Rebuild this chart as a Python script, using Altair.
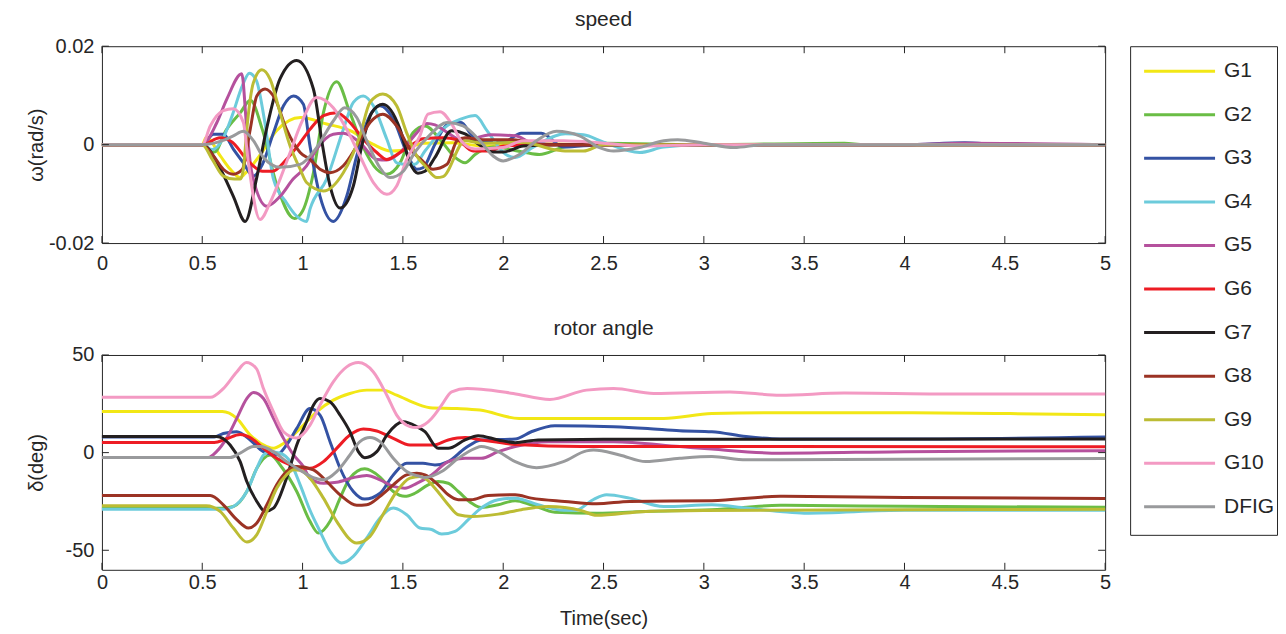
import altair as alt
import pandas as pd

FONT = "Liberation Sans"
TXT = "#262626"

NAMES = ["G1", "G2", "G3", "G4", "G5", "G6", "G7", "G8", "G9", "G10", "DFIG"]
COLORS = ["#f2e716", "#6abd45", "#3452a3", "#6ccbdb", "#b5519d", "#ed1c24",
          "#231f20", "#9b3324", "#bcbc34", "#f39ac3", "#999a9c"]

X_TICKS = [0, 0.5, 1, 1.5, 2, 2.5, 3, 3.5, 4, 4.5, 5]
W_TICKS = [-0.02, 0, 0.02]
D_TICKS = [-50, 0, 50]

# ---------------- speed (values in 1e-3 rad/s) ----------------
SPD_T_G1 = [0, 0.5, 0.52, 0.59, 0.64, 0.69, 0.71, 0.79, 0.87, 0.99, 1.12, 1.24, 1.35, 1.44, 1.49, 1.6, 1.75, 1.9, 2.1, 2.5, 3, 5]
SPD_W_G1 = [0, 0, 1.5, -2.3, -5.0, -6.7, -6.0, -2.0, 2.8, 5.5, 4.2, 2.8, 0.1, -1.3, -1.2, 0.3, 0.4, -0.3, 0.2, 0, 0, 0]

SPD_T_G2 = [0, 0.5, 0.56, 0.62, 0.69, 0.74, 0.80, 0.87, 0.96, 1.0, 1.054, 1.104, 1.17, 1.236, 1.30, 1.37, 1.42, 1.486, 1.55, 1.61, 1.69, 1.76, 1.81, 1.86, 1.95, 2.1, 2.18, 2.3, 2.5, 3, 3.7, 3.8, 5]
SPD_W_G2 = [0, 0, -1.5, 3.0, 6.5, 9.0, 3.0, -8, -15, -13.5, -5.7, 6.5, 12.8, 6.5, -0.3, -5.0, -6.0, -3.7, 2.4, 3.8, 0.8, -2.6, -3.7, -2.0, -0.5, -1.5, -2.0, -0.5, 0.3, 0, 0.3, 0, 0]

SPD_T_G3 = [0, 0.5, 0.556, 0.605, 0.655, 0.705, 0.755, 0.80, 0.855, 0.905, 0.955, 1.004, 1.037, 1.087, 1.153, 1.22, 1.27, 1.32, 1.386, 1.452, 1.519, 1.569, 1.6, 1.66, 1.725, 1.79, 1.84, 1.9, 2.0, 2.09, 2.19, 2.3, 2.5, 3, 4, 4.3, 4.5, 5]
SPD_W_G3 = [0, 0, 2.1, 2.1, -0.9, -3.7, -6.4, -4, 2.4, 7.9, 9.9, 8.2, -0.3, -10.5, -15.6, -10.5, -2.3, 4.5, 7.9, 5.2, -1.6, -5.0, -4.7, 0.1, 4.2, 4.5, 2.1, 0.5, 0.5, 2.3, 2.3, -0.5, 0, 0, 0, 0.4, 0, 0]

SPD_T_G4 = [0, 0.5, 0.55, 0.6, 0.65, 0.7, 0.735, 0.77, 0.81, 0.855, 0.92, 0.97, 1.02, 1.037, 1.12, 1.203, 1.253, 1.303, 1.353, 1.42, 1.469, 1.52, 1.56, 1.61, 1.71, 1.81, 1.86, 1.92, 2.01, 2.06, 2.15, 2.31, 2.4, 2.5, 2.68, 2.8, 3, 5]
SPD_W_G4 = [0, 0, -1, 1, 6, 12, 14.5, 13, 5, -7, -11.8, -14.5, -15.6, -13.1, -7.0, 3.1, 8.6, 9.9, 7.9, 1.1, -3.7, -4.0, -4.0, -1.3, 3.5, 5.5, 5.9, 2.8, -1.9, -2.6, -0.5, 2.2, 2.0, 0.5, -1.6, -0.5, 0, 0]

SPD_T_G5 = [0, 0.5, 0.573, 0.623, 0.697, 0.722, 0.747, 0.822, 0.888, 0.953, 1.02, 1.07, 1.153, 1.203, 1.286, 1.37, 1.42, 1.486, 1.569, 1.62, 1.66, 1.72, 1.8, 1.94, 2.06, 2.15, 2.3, 2.5, 3, 4, 4.3, 5]
SPD_W_G5 = [0, 0, 4.5, 9.3, 14.4, 3.2, -5.7, -12.5, -10.5, -7.0, -4.3, -0.9, 2.1, 2.3, 0.4, -3.0, -3.1, -1.6, 2.4, 4.3, 4.0, 2.5, 0.8, 2.0, 1.8, 0.3, 0, 0, 0, 0, 0.3, 0]

SPD_T_G6 = [0, 0.5, 0.589, 0.65, 0.722, 0.80, 0.85, 0.92, 0.988, 1.037, 1.104, 1.17, 1.236, 1.303, 1.37, 1.42, 1.486, 1.55, 1.6, 1.7, 1.77, 1.85, 1.93, 2.0, 2.2, 5]
SPD_W_G6 = [0, 0, 1.4, 0.5, -3.0, -5.4, -5.4, -3.0, 0.4, 3.1, 5.9, 6.5, 4.5, 1.1, -1.6, -3.0, -1.6, 0.1, 1.2, 1.4, 1.0, -1.3, -1.3, -0.3, 0, 0]

SPD_T_G7 = [0, 0.5, 0.59, 0.655, 0.714, 0.77, 0.82, 0.888, 0.971, 1.054, 1.10, 1.137, 1.187, 1.253, 1.295, 1.345, 1.40, 1.486, 1.535, 1.575, 1.61, 1.66, 1.743, 1.81, 1.87, 1.95, 2.0, 2.1, 2.3, 5]
SPD_W_G7 = [0, 0, -4.9, -10.5, -15.6, -7, 3.1, 13.4, 17.1, 11.3, -0.3, -8.4, -12.9, -8.4, -0.3, 6.5, 8.2, 3.1, -3.7, -5.8, -5.4, -2.6, 2.8, 2.2, 0.3, -1.5, -1.5, -0.3, 0, 0]

SPD_T_G8 = [0, 0.5, 0.556, 0.605, 0.655, 0.70, 0.739, 0.772, 0.813, 0.863, 0.92, 0.988, 1.037, 1.087, 1.137, 1.203, 1.27, 1.336, 1.40, 1.469, 1.535, 1.59, 1.65, 1.72, 1.77, 1.81, 1.9, 2.05, 2.2, 5]
SPD_W_G8 = [0, 0, -2.3, -5.0, -6.0, -5.0, 3.1, 9.9, 11.3, 9.3, 3.1, -1.6, -3.0, -5.0, -5.7, -4.3, -0.3, 4.5, 6.2, 3.8, -0.9, -3.0, -5.0, -4.0, 0.8, 1.4, 1.0, 1.0, 0, 0]

SPD_T_G9 = [0, 0.5, 0.55, 0.605, 0.66, 0.69, 0.705, 0.722, 0.755, 0.797, 0.838, 0.888, 0.938, 0.988, 1.02, 1.104, 1.203, 1.286, 1.336, 1.40, 1.469, 1.519, 1.569, 1.61, 1.67, 1.70, 1.81, 1.9, 2.1, 2.25, 2.32, 2.4, 2.5, 3, 5]
SPD_W_G9 = [0, 0, -3, -6.4, -7.0, -7.0, -5, 3.1, 12.6, 15.2, 13.3, 6.5, -0.3, -5.0, -7.7, -9.4, -5.7, 1.8, 8.6, 10.3, 7.9, 2.4, -2.3, -4.3, -6.7, -6.5, 0.8, 0.3, 0.5, -1.0, -1.3, -1.3, 0, 0, 0]

SPD_T_G10 = [0, 0.5, 0.54, 0.605, 0.655, 0.705, 0.73, 0.788, 0.838, 0.888, 0.938, 0.995, 1.07, 1.153, 1.22, 1.286, 1.353, 1.42, 1.469, 1.519, 1.585, 1.625, 1.685, 1.743, 1.79, 1.86, 2.0, 2.1, 2.3, 2.5, 2.7, 3.0, 5]
SPD_W_G10 = [0, 0, 3.8, 6.9, 7.3, 4.5, -3.7, -15.2, -11.8, -7.0, -1.6, 4.5, 9.6, 7.5, 3.1, -2.3, -7.7, -10.1, -8.4, -3.0, 1.8, 6.2, 6.7, 4.2, 0.8, -0.9, -0.6, 0.8, 0.8, 0.3, -0.3, 0, 0]

SPD_T_DFIG = [0, 0.5, 0.6, 0.655, 0.705, 0.755, 0.805, 0.888, 0.988, 1.07, 1.153, 1.21, 1.27, 1.32, 1.386, 1.435, 1.502, 1.56, 1.635, 1.72, 1.80, 1.884, 1.95, 2.0, 2.08, 2.166, 2.266, 2.38, 2.48, 2.55, 2.68, 2.8, 2.87, 3.0, 3.15, 3.3, 5]
SPD_W_DFIG = [0, 0, 0.8, 1.8, 2.7, 0.8, -2.6, -4.6, -4.0, -0.6, 4.8, 7.5, 5.5, 0.8, -4.7, -6.7, -5.4, -1.5, 2.0, 4.5, 3.8, 0.8, -2.3, -3.3, -2.0, 0.8, 2.7, 1.8, -0.6, -1.3, -0.6, 0.8, 1.0, 0.3, -0.6, 0, 0]

# ---------------- rotor angle (deg) ----------------
ANG_T_G1 = [0, 0.6, 0.672, 0.739, 0.822, 0.855, 0.905, 0.988, 1.07, 1.153, 1.236, 1.32, 1.40, 1.469, 1.585, 1.635, 1.77, 1.884, 2.08, 2.38, 2.8, 3.04, 3.38, 4.0, 4.5, 5]
ANG_D_G1 = [21, 21, 17.5, 9.0, 3.1, 2.2, 4.7, 12.4, 20.9, 26.9, 30.3, 32, 32, 29.4, 24.3, 23, 22.6, 21.8, 17.5, 17.5, 17.5, 20, 20.4, 20.4, 20, 19.4]

ANG_T_G2 = [0, 0.6, 0.655, 0.722, 0.772, 0.838, 0.9, 0.971, 1.037, 1.079, 1.137, 1.187, 1.236, 1.31, 1.386, 1.452, 1.51, 1.56, 1.626, 1.676, 1.726, 1.776, 1.843, 1.89, 1.975, 2.06, 2.14, 2.258, 2.465, 2.71, 3.04, 3.38, 4.0, 5]
ANG_D_G2 = [-28.5, -28.5, -27.6, -19.9, -8, -1.2, -8, -19.9, -35.2, -41.2, -35.2, -23.3, -13.1, -8.3, -12.5, -19.9, -22.4, -20.8, -16.5, -14.8, -15.7, -19.9, -25.9, -28.1, -26.7, -24.6, -26.7, -30.5, -31, -30.1, -29.2, -27, -27.5, -28]

ANG_T_G3 = [0, 0.56, 0.605, 0.672, 0.739, 0.805, 0.871, 0.92, 0.971, 1.037, 1.087, 1.137, 1.187, 1.253, 1.31, 1.386, 1.452, 1.519, 1.6, 1.66, 1.726, 1.81, 1.89, 2.06, 2.14, 2.258, 2.55, 2.72, 2.88, 3.04, 3.21, 3.38, 4.0, 5]
ANG_D_G3 = [8, 8, 9.8, 10.7, 6.5, 0.5, -1.2, 3.9, 12.4, 22.6, 19.2, 5.6, -8, -19.9, -23.8, -20.8, -11.4, -5.5, -5.5, -6.3, -4.6, 2.2, 6.5, 7, 10.7, 13.8, 13.3, 12.4, 11.2, 10.7, 8.2, 7.0, 7.0, 8.0]

ANG_T_G4 = [0, 0.605, 0.655, 0.722, 0.772, 0.805, 0.84, 0.888, 0.938, 0.988, 1.037, 1.087, 1.137, 1.195, 1.253, 1.32, 1.386, 1.452, 1.519, 1.585, 1.643, 1.693, 1.76, 1.826, 1.89, 1.975, 2.06, 2.174, 2.3, 2.36, 2.45, 2.515, 2.63, 2.8, 3.04, 3.21, 3.38, 3.5, 4.0, 5]
ANG_D_G4 = [-29, -29, -27.6, -19.9, -8, -1.2, 0.5, -0.3, -4.6, -16.5, -29.5, -40.3, -50.5, -56.5, -53.1, -43.7, -33.5, -28.4, -31.8, -38.6, -39.4, -41.7, -40.3, -34.3, -28.4, -24.1, -23.3, -26.7, -29.5, -29.5, -24, -21.6, -23.3, -27.6, -26.7, -28.4, -30.1, -31, -29.5, -29.5]

ANG_T_G5 = [0, 0.53, 0.571, 0.621, 0.672, 0.722, 0.755, 0.805, 0.855, 0.905, 0.955, 1.004, 1.037, 1.104, 1.17, 1.253, 1.32, 1.386, 1.452, 1.51, 1.569, 1.643, 1.726, 1.81, 1.89, 1.975, 2.06, 2.224, 2.55, 2.88, 3.04, 3.38, 4.0, 5]
ANG_D_G5 = [-2.5, -2.5, 0.5, 7.3, 17.5, 27.7, 30.8, 27.7, 17.5, 7.3, -1.2, -7.1, -13.1, -15.7, -15.2, -12.8, -11.7, -13.9, -17.3, -18.2, -15.7, -11.4, -4.6, -2.9, -2.9, 0.5, 3.1, 5.6, 5.6, 3.1, 1.8, -0.3, 0.5, 1.0]

ANG_T_G6 = [0, 0.56, 0.619, 0.689, 0.739, 0.805, 0.871, 0.938, 1.004, 1.037, 1.104, 1.17, 1.236, 1.303, 1.37, 1.452, 1.535, 1.65, 1.726, 1.81, 1.89, 2.06, 2.39, 3.38, 5]
ANG_D_G6 = [5.2, 5.2, 7, 9.3, 7.7, 2.2, -2.9, -6.3, -8, -8, -4.6, 2.2, 9, 12.1, 11.1, 7.3, 3.9, 3.9, 6.5, 7.7, 6.5, 4.2, 3.1, 3.1, 3.0]

ANG_T_G7 = [0, 0.57, 0.639, 0.689, 0.722, 0.772, 0.813, 0.855, 0.92, 0.971, 1.02, 1.054, 1.087, 1.137, 1.187, 1.236, 1.278, 1.31, 1.37, 1.42, 1.502, 1.569, 1.61, 1.676, 1.726, 1.81, 1.875, 1.975, 2.06, 2.174, 2.5, 3.38, 5]
ANG_D_G7 = [8.3, 8.3, 3.9, -4.6, -14.8, -25, -30.1, -28.4, -13.1, 3.9, 15.8, 24.3, 27.7, 26, 19.2, 10.7, 0.5, -2.6, 0.5, 9.0, 15.8, 13.3, 10.7, 2.2, 2.2, 6.5, 8.7, 6.5, 5.1, 6.5, 6.8, 6.8, 7.0]

ANG_T_G8 = [0, 0.54, 0.605, 0.672, 0.73, 0.772, 0.822, 0.871, 0.92, 0.971, 1.054, 1.12, 1.187, 1.27, 1.32, 1.386, 1.452, 1.519, 1.569, 1.61, 1.676, 1.726, 1.776, 1.84, 1.925, 2.06, 2.14, 2.307, 2.465, 2.63, 3.04, 3.38, 4.0, 5]
ANG_D_G8 = [-22, -22, -26.7, -34.3, -38.6, -36, -26.7, -16.5, -9.7, -7.1, -8.8, -14.8, -21.6, -27, -26.7, -22.4, -16.5, -11.4, -10.6, -11.4, -16.5, -21.6, -24.1, -24.1, -21.9, -21.6, -23.3, -25, -26.2, -25, -24.6, -22.4, -23, -23.5]

ANG_T_G9 = [0, 0.52, 0.589, 0.655, 0.722, 0.772, 0.822, 0.871, 0.92, 0.955, 0.988, 1.037, 1.104, 1.17, 1.27, 1.336, 1.40, 1.469, 1.535, 1.585, 1.61, 1.66, 1.726, 1.776, 1.843, 1.975, 2.09, 2.224, 2.39, 2.465, 2.71, 3.0, 5]
ANG_D_G9 = [-27.2, -27.2, -30.1, -38.6, -45.8, -42, -30.1, -18.2, -11.4, -8.8, -9, -13.1, -23.3, -35.2, -46.3, -42.9, -31.8, -19.9, -13.1, -12.2, -13.1, -18.2, -26.7, -31.8, -32.7, -31.5, -29.2, -27.6, -29.7, -32.1, -30.1, -29.6, -29]

ANG_T_G10 = [0, 0.54, 0.605, 0.672, 0.72, 0.77, 0.805, 0.855, 0.905, 0.97, 1.037, 1.087, 1.153, 1.22, 1.278, 1.353, 1.42, 1.469, 1.535, 1.565, 1.61, 1.643, 1.693, 1.743, 1.82, 1.89, 2.05, 2.233, 2.415, 2.55, 2.75, 3.13, 3.38, 3.7, 4.2, 5]
ANG_D_G10 = [28.3, 28.3, 32.8, 41.3, 46.1, 43, 32.8, 20.9, 10.7, 7.5, 14.1, 24.3, 36.2, 43.9, 46.1, 41.3, 29.4, 19.2, 13.3, 12.8, 14.5, 17.5, 24.3, 31.1, 32.8, 32.5, 30.3, 27.2, 32, 32.8, 30.3, 31.1, 29.4, 30.5, 30, 30]

ANG_T_DFIG = [0, 0.639, 0.689, 0.755, 0.79, 0.855, 0.92, 0.988, 1.054, 1.104, 1.17, 1.236, 1.286, 1.336, 1.386, 1.452, 1.519, 1.585, 1.61, 1.693, 1.776, 1.86, 1.89, 1.975, 2.06, 2.166, 2.3, 2.415, 2.45, 2.58, 2.71, 2.88, 3.04, 3.21, 3.38, 5]
ANG_D_DFIG = [-2.5, -2.5, -0.3, 3.1, 3.1, 0.5, -4.6, -9, -12.8, -13.9, -9.7, -1.2, 5.6, 7.7, 5.6, -2.9, -9.7, -12.2, -12.8, -9.7, -2.9, 2.2, 3.1, 0.5, -4.6, -7.7, -4.6, 0.9, 1.3, -1.2, -4.6, -2.9, -2, -3.7, -3.7, -3.0]

SPD_T = [SPD_T_G1, SPD_T_G2, SPD_T_G3, SPD_T_G4, SPD_T_G5, SPD_T_G6, SPD_T_G7, SPD_T_G8, SPD_T_G9, SPD_T_G10, SPD_T_DFIG]
SPD_W = [SPD_W_G1, SPD_W_G2, SPD_W_G3, SPD_W_G4, SPD_W_G5, SPD_W_G6, SPD_W_G7, SPD_W_G8, SPD_W_G9, SPD_W_G10, SPD_W_DFIG]
ANG_T = [ANG_T_G1, ANG_T_G2, ANG_T_G3, ANG_T_G4, ANG_T_G5, ANG_T_G6, ANG_T_G7, ANG_T_G8, ANG_T_G9, ANG_T_G10, ANG_T_DFIG]
ANG_D = [ANG_D_G1, ANG_D_G2, ANG_D_G3, ANG_D_G4, ANG_D_G5, ANG_D_G6, ANG_D_G7, ANG_D_G8, ANG_D_G9, ANG_D_G10, ANG_D_DFIG]


def build(times, values, scale=1.0):
    rows = []
    for name, ts, vs in zip(NAMES, times, values):
        for t, v in zip(ts, vs):
            rows.append({"series": name, "t": t, "v": v * scale})
    return pd.DataFrame(rows)


spd_df = build(SPD_T, SPD_W, 0.001)
ang_df = build(ANG_T, ANG_D)

W = 1004
H1 = 197
H2 = 215
TICK = 7
LW = 3
LBL = 20
TTL = 21

color_scale = alt.Scale(domain=NAMES, range=COLORS)
x_scale = alt.Scale(domain=[0, 5], nice=False, zero=False)

X_LABEL = "format(datum.value, '~g')"
Y_LABEL = "datum.value == 0 ? '0' : (datum.value < 0 ? '-' : '') + format(abs(datum.value), '~g')"


def axis_common(**kw):
    base = dict(ticks=False, tickSize=0, domain=False, grid=False,
                labelFont=FONT, labelFontSize=LBL, labelColor=TXT,
                titleFont=FONT, titleFontSize=LBL, titleColor=TXT,
                titleFontWeight="normal", labelFlush=False,
                labelOverlap=False, labelBound=False)
    base.update(kw)
    return alt.Axis(**base)


def panel(df, y_domain, y_ticks, height, title, ytitle, show_xtitle, xpad, toff):
    xaxis = axis_common(values=X_TICKS, labelExpr=X_LABEL, labelPadding=xpad,
                        title="Time(sec)" if show_xtitle else None,
                        titleY=55, titleBaseline="alphabetic")
    yaxis = axis_common(values=y_ticks, labelExpr=Y_LABEL, labelPadding=8,
                        title=ytitle, titleX=-55, titleY=height / 2,
                        titleAngle=270, titleBaseline="bottom", titleAlign="center")
    y_scale = alt.Scale(domain=y_domain, nice=False, zero=False)

    lines = alt.Chart(df).mark_line(strokeWidth=LW, interpolate="monotone").encode(
        x=alt.X("t:Q", scale=x_scale, axis=xaxis),
        y=alt.Y("v:Q", scale=y_scale, axis=yaxis),
        color=alt.Color("series:N", scale=color_scale, legend=None),
    )
    xt = alt.Chart(pd.DataFrame({"t": X_TICKS}))
    yt = alt.Chart(pd.DataFrame({"v": y_ticks}))
    rule_kw = dict(color=TXT, strokeWidth=1)
    ticks_top = xt.mark_rule(**rule_kw).encode(x="t:Q", y=alt.value(0), y2=alt.value(TICK))
    ticks_bot = xt.mark_rule(**rule_kw).encode(x="t:Q", y=alt.value(height), y2=alt.value(height - TICK))
    ticks_l = yt.mark_rule(**rule_kw).encode(y="v:Q", x=alt.value(0), x2=alt.value(TICK))
    ticks_r = yt.mark_rule(**rule_kw).encode(y="v:Q", x=alt.value(W - TICK), x2=alt.value(W))

    return alt.layer(lines, ticks_top, ticks_bot, ticks_l, ticks_r).properties(
        width=W, height=height,
        title=alt.TitleParams(title, font=FONT, fontSize=TTL, fontWeight="normal",
                              color=TXT, offset=toff),
    )


top = panel(spd_df, [-0.02, 0.02], W_TICKS, H1, "speed", "ω(rad/s)", False, 10, 6)
bottom = panel(ang_df, [-60, 50], D_TICKS, H2, "rotor angle", "δ(deg)", True, 3, 6)

# legend panel
LEG_W = 147
LEG_H = 489
leg_df = pd.DataFrame({"series": NAMES, "row": list(range(len(NAMES)))})
leg_y = alt.Scale(domain=[-0.573, 10.642], range=[0, LEG_H], nice=False, zero=False)
leg_base = alt.Chart(leg_df)
leg_lines = leg_base.mark_rule(strokeWidth=3).encode(
    x=alt.value(14), x2=alt.value(85),
    y=alt.Y("row:Q", scale=leg_y, axis=None),
    color=alt.Color("series:N", scale=color_scale, legend=None),
)
leg_text = leg_base.mark_text(align="left", baseline="middle", font=FONT,
                              fontSize=TTL, color=TXT).encode(
    x=alt.value(94),
    y=alt.Y("row:Q", scale=leg_y, axis=None),
    text="series:N",
)
legend = alt.layer(leg_lines, leg_text).properties(
    width=LEG_W, height=LEG_H,
    title=alt.TitleParams(" ", font=FONT, fontSize=TTL, fontWeight="normal",
                          color=TXT, offset=7),
)

chart = alt.hconcat(
    alt.vconcat(top, bottom, spacing=43),
    legend,
    spacing=17,
).properties(
    padding={"left": 18, "top": 0, "right": 0, "bottom": 0},
    background="white",
).configure_view(stroke=TXT, strokeWidth=1)

chart.save("out.html", embed_options={"renderer": "svg", "actions": False})
